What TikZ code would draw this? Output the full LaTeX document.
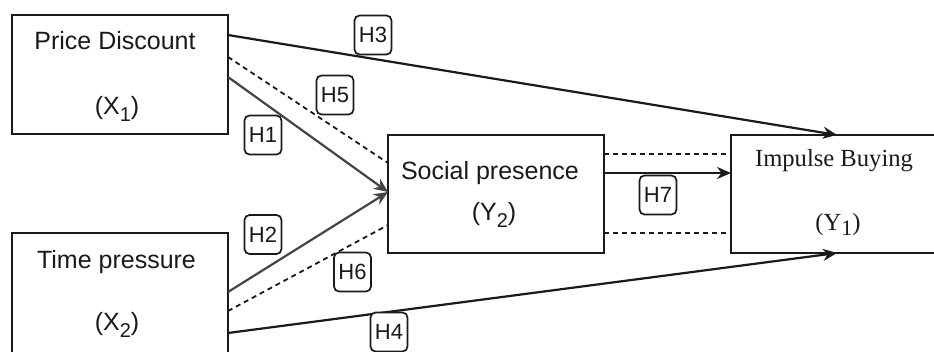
\documentclass[tikz,border=0pt]{standalone}
\usepackage{fontspec}
\setmainfont{Liberation Sans}
\newfontfamily\serfam{Liberation Serif}
\usetikzlibrary{arrows.meta}
\newcommand\subsc[2]{\raisebox{-#2pt}{\fontsize{20}{20}\selectfont #1}}
\definecolor{ink}{HTML}{1A1A1A}
\definecolor{inkb}{HTML}{444444}
\tikzset{
  boxnode/.style={draw=ink, line width=2.2pt, rectangle, inner sep=0pt, outer sep=0pt, fill=white},
  txt/.style={inner sep=0pt, anchor=base, text=ink, font=\fontsize{25}{28}\selectfont},
  stxt/.style={inner sep=0pt, anchor=base, text=ink, font=\serfam\fontsize{24.6}{28}\selectfont},
  hlabel/.style={draw=ink, line width=1.7pt, rounded corners=5pt, fill=white, minimum width=37pt, minimum height=39pt, inner sep=0pt, text=ink, font=\fontsize{22}{24}\selectfont},
  conn/.style={draw=ink, line width=2.2pt},
  connb/.style={draw=inkb, line width=2.2pt},
  arr/.style={-{Stealth[length=14pt,width=12pt]}},
  dline/.style={draw=ink, line width=1.8pt, dash pattern=on 5pt off 4pt}
}
\begin{document}
\begin{tikzpicture}[x=1pt,y=-1pt]
\clip (0,0) rectangle (934,352);
\fill[white] (0,0) rectangle (934,352);
% boxes
\node[boxnode, minimum width=216pt, minimum height=119pt] (pd) at (120,74.5) {};
\node[boxnode, minimum width=216pt, minimum height=127pt] (tp) at (120,296.5) {};
\node[boxnode, minimum width=216pt, minimum height=118pt] (sp) at (496,194) {};
\node[boxnode, minimum width=216pt, minimum height=118pt] (ib) at (839,194) {};
% texts
\node[txt] (pdt) at (115,50) {Price Discount};
\node[txt] (pdx) at (117,115) {(X\subsc{1}{7})};
\node[txt] (tpt) at (116.5,269) {Time pressure};
\node[txt] (tpx) at (117,331) {(X\subsc{2}{7})};
\node[txt] (spt) at (490,180) {Social presence};
\node[txt] (spy) at (494,221) {(Y\subsc{2}{7})};
\node[stxt] (ibt) at (834,167) {Impulse Buying};
\node[stxt] (iby) at (838,231) {(Y\raisebox{-5pt}{\serfam\fontsize{22}{22}\selectfont 1})};
% connectors
\draw[conn, arr] ([yshift=-20pt]pd.north east) -- ([xshift=106pt]ib.north west);
\draw[dline] ([yshift=-42pt]pd.north east) -- ([yshift=-28pt]sp.north west);
\draw[connb, arr] ([yshift=-62pt]pd.north east) -- ([yshift=-57pt]sp.north west);
\draw[connb, arr] ([yshift=-59pt]tp.north east) -- ([yshift=-57pt]sp.north west);
\draw[dline] ([yshift=-78pt]tp.north east) -- ([yshift=-90pt]sp.north west);
\draw[conn, arr] ([yshift=-100pt]tp.north east) -- ([xshift=106pt]ib.south west);
\draw[dline] ([yshift=-19pt]sp.north east) -- ([yshift=-19pt]ib.north west);
\draw[conn, arr] ([yshift=-38pt]sp.north east) -- ([yshift=-38pt]ib.north west);
\draw[dline] ([yshift=-98pt]sp.north east) -- ([yshift=-98pt]ib.north west);
% hypothesis labels
\node[hlabel] (h3) at (373,35) {H3};
\node[hlabel] (h5) at (335,95) {H5};
\node[hlabel] (h1) at (263,135) {H1};
\node[hlabel] (h2) at (263,234.5) {H2};
\node[hlabel] (h6) at (352.5,272) {H6};
\node[hlabel] (h4) at (389,332) {H4};
\node[hlabel] (h7) at (658,195) {H7};
\end{tikzpicture}
\end{document}
